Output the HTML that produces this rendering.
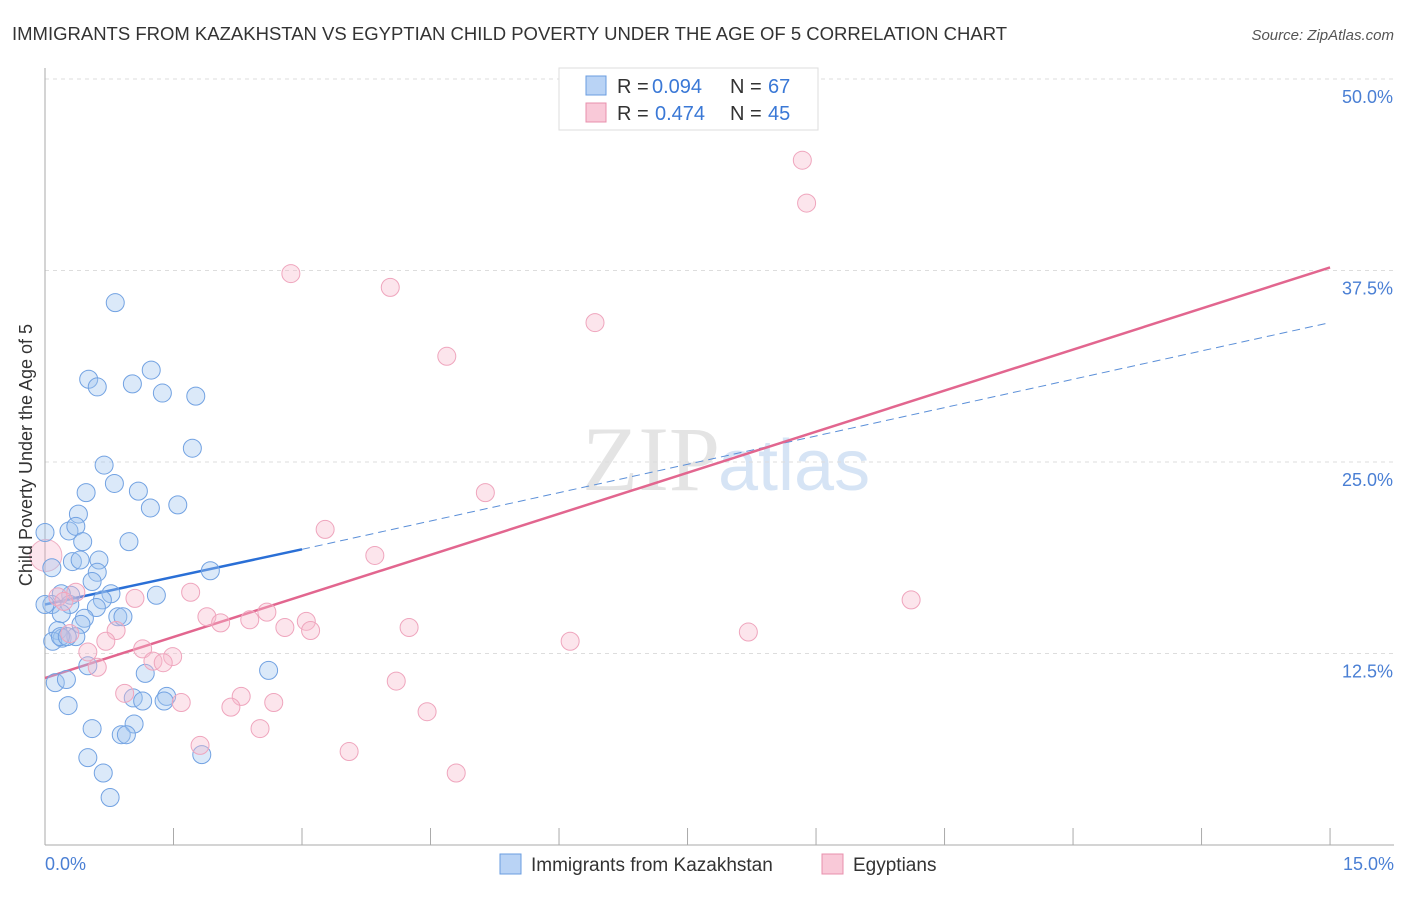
<!DOCTYPE html>
<html><head><meta charset="utf-8"><style>
body{margin:0;background:#fff;font-family:"Liberation Sans",sans-serif;}
</style></head><body>
<svg id="c" width="1406" height="892" xmlns="http://www.w3.org/2000/svg">
<text x="12" y="40" font-size="18.5" fill="#333">IMMIGRANTS FROM KAZAKHSTAN VS EGYPTIAN CHILD POVERTY UNDER THE AGE OF 5 CORRELATION CHART</text>
<text x="1394" y="40" font-size="15" fill="#555" font-style="italic" text-anchor="end">Source: ZipAtlas.com</text>
<text x="720" y="490" font-size="92" fill="#e4e4e4" text-anchor="end" font-family="Liberation Serif">ZIP</text>
<text x="718" y="490" font-size="72" fill="#d6e4f5">atlas</text>
<g id="grid"></g><g id="axes"></g><g id="trend"></g><g id="pts"></g>
<text x="32" y="455" font-size="18" fill="#333" text-anchor="middle" transform="rotate(-90 32 455)">Child Poverty Under the Age of 5</text>
<text x="45" y="870" font-size="18" fill="#4a7fd4">0.0%</text>
<text x="1394" y="870" font-size="18" fill="#4a7fd4" text-anchor="end">15.0%</text>
<g>
<rect x="559" y="68" width="259" height="62" fill="#fff" stroke="#ddd"/>
<rect x="586" y="76" width="20" height="19" fill="#b9d3f5" stroke="#6a9de0"/>
<rect x="586" y="103" width="20" height="19" fill="#f9c9d8" stroke="#e890ad"/>
<text x="617" y="93" font-size="20" fill="#333">R =</text>
<text x="652" y="93" font-size="20" fill="#3a78d6">0.094</text>
<text x="730" y="93" font-size="20" fill="#333">N =</text>
<text x="768" y="93" font-size="20" fill="#3a78d6">67</text>
<text x="617" y="120" font-size="20" fill="#333">R =</text>
<text x="655" y="120" font-size="20" fill="#3a78d6">0.474</text>
<text x="730" y="120" font-size="20" fill="#333">N =</text>
<text x="768" y="120" font-size="20" fill="#3a78d6">45</text>
</g>
<g>
<rect x="500" y="854" width="21" height="20" fill="#b9d3f5" stroke="#6a9de0"/>
<text x="531" y="871" font-size="19" fill="#333">Immigrants from Kazakhstan</text>
<rect x="822" y="854" width="21" height="20" fill="#f9c9d8" stroke="#e890ad"/>
<text x="853" y="871" font-size="19" fill="#333">Egyptians</text>
</g>
</svg>
<script>
const yTicks=[12.5,25,37.5,50];
const yTickLabels=["12.5%","25.0%","37.5%","50.0%"];
const xTicks=[0,1.5,3,4.5,6,7.5,9,10.5,12,13.5,15];
const blueX=[0.82,0.51,0.61,1.02,1.24,1.37,1.76,1.72,0.69,0.81,0.48,1.09,1.23,1.55,0.39,0.28,0.36,0,0.44,0.98,0.08,0.32,0.63,0.41,0.61,0.55,1.93,0.77,0.30,0.19,0.08,0,0.67,1.30,0.29,0.60,0.46,0.42,0.85,0.91,0.19,0.15,0.20,0.36,0.09,0.18,0.26,2.61,0.50,1.17,0.12,0.25,1.42,1.03,1.14,1.39,0.27,0.55,1.04,0.89,0.95,0.50,1.83,0.68,0.76];
const blueY=[35.4,30.4,29.9,30.1,31.0,29.5,29.3,25.9,24.8,23.6,23.0,23.1,22.0,22.2,21.6,20.5,20.8,20.4,19.8,19.8,18.1,18.5,18.6,18.6,17.8,17.2,17.9,16.4,16.3,16.4,15.7,15.7,16.0,16.3,15.7,15.5,14.8,14.4,14.9,14.9,15.1,14.0,13.5,13.6,13.3,13.6,13.6,11.4,11.7,11.2,10.6,10.8,9.7,9.6,9.4,9.4,9.1,7.6,7.9,7.2,7.2,5.7,5.9,4.7,3.1];
const pinkX=[8.84,8.89,2.87,4.03,6.42,4.69,5.14,3.27,3.85,10.11,1.70,1.05,0.36,0.15,0.22,1.89,2.05,2.59,2.39,3.05,3.10,2.80,4.25,0.83,8.21,6.13,1.14,1.49,1.26,1.38,0.50,0.71,0.61,0.93,1.59,2.29,2.67,2.17,4.10,4.46,1.81,2.51,3.55,4.80,0.29];
const pinkY=[44.7,41.9,37.3,36.4,34.1,31.9,23.0,20.6,18.9,16.0,16.5,16.1,16.5,16.2,15.9,14.9,14.5,15.2,14.7,14.6,14.0,14.2,14.2,14.0,13.9,13.3,12.8,12.3,12.0,11.9,12.6,13.3,11.6,9.9,9.3,9.7,9.3,9.0,10.7,8.7,6.5,7.6,6.1,4.7,13.8];
const bigPinkX=[0.01],bigPinkY=[18.9];
const blueTrendX=[0,3,15],blueTrendY=[15.7,19.3,34.1];
const pinkTrendX=[0,15],pinkTrendY=[10.9,37.7];
const X=v=>45+v*85.67, Y=v=>845-v*15.32;
const NS="http://www.w3.org/2000/svg";
function mk(tag,attrs,parent){const e=document.createElementNS(NS,tag);for(const k in attrs)e.setAttribute(k,attrs[k]);document.getElementById(parent).appendChild(e);return e;}
yTicks.forEach((t,i)=>{
 const l=mk('line',{x1:45,x2:1394,y1:Y(t),y2:Y(t),stroke:'#ddd','stroke-dasharray':'4 4'},'grid');
 
 
 const tx=mk('text',{x:1393,y:Y(t)+24,'font-size':18,fill:'#4a7fd4','text-anchor':'end'},'grid');tx.textContent=yTickLabels[i];
 
 
});
const ya=mk('line',{x1:45,x2:45,y1:68,y2:845,stroke:'#aaa'},'axes');


const xa=mk('line',{x1:45,x2:1394,y1:845,y2:845,stroke:'#aaa'},'axes');


xTicks.forEach(t=>{const l=mk('line',{x1:X(t),x2:X(t),y1:828,y2:845,stroke:'#aaa'},'axes');
 
 });
function dots(xs,ys,r,fill,stroke,name){xs.forEach((x,i)=>{const c=mk('circle',{cx:X(x),cy:Y(ys[i]),r:r,fill:fill,stroke:stroke,'stroke-width':1},'pts');
 
 });}
dots(bigPinkX,bigPinkY,16,'rgba(245,170,195,0.3)','#efb0c4','egyptians-point');
dots(blueX,blueY,9,'rgba(160,196,240,0.38)','#72a2e2','kazakhstan-point');
dots(pinkX,pinkY,9,'rgba(248,186,206,0.38)','#efa5bd','egyptians-point');
const bs=mk('line',{x1:X(blueTrendX[0]),y1:Y(blueTrendY[0]),x2:X(blueTrendX[1]),y2:Y(blueTrendY[1]),stroke:'#2a6fd6','stroke-width':2.5},'trend');


const bd=mk('line',{x1:X(blueTrendX[1]),y1:Y(blueTrendY[1]),x2:X(blueTrendX[2]),y2:Y(blueTrendY[2]),stroke:'#5b8fd8','stroke-width':1,'stroke-dasharray':'8 5'},'trend');


const pt=mk('line',{x1:X(pinkTrendX[0]),y1:Y(pinkTrendY[0]),x2:X(pinkTrendX[1]),y2:Y(pinkTrendY[1]),stroke:'#e2668f','stroke-width':2.5},'trend');


</script>
</body></html>
